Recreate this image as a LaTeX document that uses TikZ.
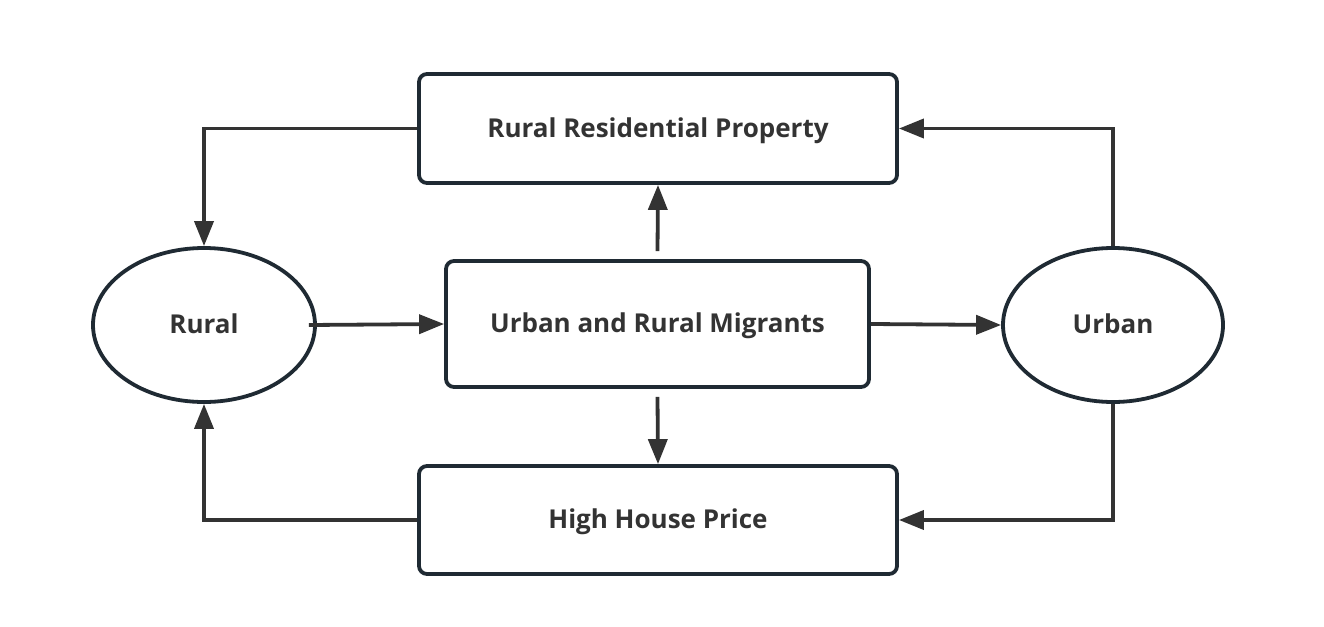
\documentclass[tikz,border=0pt]{standalone}
\usepackage{fontspec}
\setmainfont{Open Sans}
\usetikzlibrary{shapes.geometric,arrows.meta}
\definecolor{edgec}{HTML}{1F2A33}
\definecolor{linec}{HTML}{333333}
\definecolor{txtc}{HTML}{333333}
\tikzset{
  txt/.style={font=\fontsize{26}{30}\selectfont\bfseries,text=txtc,text height=17pt,text depth=0pt},
  boxn/.style={txt,draw=edgec,line width=3.8pt,rounded corners=8pt,fill=white,inner sep=0pt},
  elln/.style={txt,ellipse,draw=edgec,line width=3.8pt,fill=white,inner sep=0pt},
  conn/.style={draw=linec,line width=3.8pt,-{Triangle[length=25pt,width=19pt]}},
}
\begin{document}
\begin{tikzpicture}[x=1pt,y=-1pt]
\useasboundingbox (0,0) rectangle (1324,626);
\node[boxn,minimum width=478pt,minimum height=109pt] (rrp) at (658,128.5) {Rural Residential Property};
\node[boxn,minimum width=423pt,minimum height=126pt] (mig) at (657.5,324) {Urban and Rural Migrants};
\node[boxn,minimum width=478pt,minimum height=108pt] (hhp) at (658,520) {High House Price};
\node[elln,minimum width=222pt,minimum height=154pt] (rural) at (204,325) {Rural};
\node[elln,minimum width=220pt,minimum height=154pt] (urban) at (1113,325) {Urban};
\coordinate (c1) at (204,128.5);
\coordinate (c2) at (1113,128.5);
\coordinate (c3) at (204,520);
\coordinate (c4) at (1113,520);
\draw[conn] (rrp.west) -- (c1) -- (rural.north);
\draw[conn] (urban.north) -- (c2) -- (rrp.east);
\draw[conn] (hhp.west) -- (c3) -- (rural.south);
\draw[conn] (urban.south) -- (c4) -- (hhp.east);
\draw[conn] ([xshift=-8pt]rural.east) -- (mig.west);
\draw[conn] (mig.east) -- (urban.west);
\draw[conn] ([yshift=8pt]mig.north) -- (rrp.south);
\draw[conn] ([yshift=-8pt]mig.south) -- (hhp.north);
\end{tikzpicture}
\end{document}
